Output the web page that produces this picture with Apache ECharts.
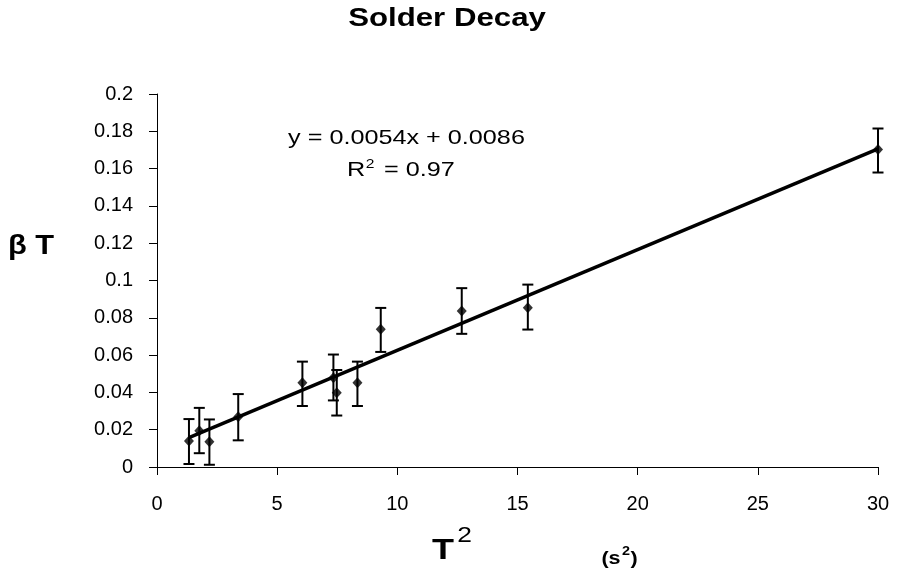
<!DOCTYPE html>
<html><head><meta charset="utf-8">
<script src="https://cdn.jsdelivr.net/npm/echarts@6/dist/echarts.min.js"></script>
<style>html,body{margin:0;padding:0;background:#fff}#c{width:898px;height:572px}</style>
</head><body><div id="c"></div>
<script>
const tSquared = [1.33, 1.76, 2.18, 3.38, 6.05, 7.34, 7.48, 8.34, 9.31, 12.68, 15.43, 30.0];
const betaT   = [0.0139, 0.0195, 0.0136, 0.027, 0.0452, 0.0479, 0.0398, 0.0452, 0.0738, 0.0836, 0.0854, 0.1703];
const errLow  = [0.0016, 0.0074, 0.0012, 0.0143, 0.0327, 0.0357, 0.0276, 0.0327, 0.0617, 0.0714, 0.0737, 0.1579];
const errHigh = [0.0257, 0.0317, 0.0255, 0.0391, 0.0565, 0.0603, 0.0520, 0.0565, 0.0853, 0.0959, 0.0978, 0.1815];
const slope = 0.0054, intercept = 0.0086;
const trendX = [1.33, 30];
const yTicks = ['0','0.02','0.04','0.06','0.08','0.1','0.12','0.14','0.16','0.18','0.2'];

const font = 'Arial, "Liberation Sans", sans-serif';
const SX = 1.2;
function txt(x, y, text, size, weight, sx){
  return {type:'text', x:x, y:y, scaleX:sx||SX,
    style:{text:text, x:0, y:0, align:'center', verticalAlign:'middle',
      font:(weight||'normal')+' '+size+'px '+font, fill:'#000'}};
}
const chart = echarts.init(document.getElementById('c'), null, {renderer:'canvas'});
chart.setOption({
  animation:false,
  backgroundColor:'#fff',
  grid:{left:157, right:20, top:94, bottom:105},
  xAxis:{type:'value', min:0, max:30, interval:5,
    axisLine:{lineStyle:{color:'#000', width:1}},
    axisTick:{show:true, length:8, lineStyle:{color:'#000'}},
    splitLine:{show:false},
    axisLabel:{fontFamily:font, fontSize:20, color:'#000', margin:27}
  },
  yAxis:{type:'value', min:0, max:0.2, interval:0.02,
    axisLine:{show:true, lineStyle:{color:'#000', width:1}},
    axisTick:{show:true, length:8, lineStyle:{color:'#000'}},
    splitLine:{show:false},
    axisLabel:{fontFamily:font, fontSize:20, color:'#000', margin:24,
      formatter:(v)=>yTicks[Math.round(v/0.02)]}
  },
  graphic:[
    txt(447, 19, 'Solder Decay', 26, 'bold'),
    txt(406.5, 138.5, 'y = 0.0054x + 0.0086', 21),
    txt(356, 170.5, 'R', 21),
    txt(370, 164, '2', 13),
    txt(419.5, 170.5, '= 0.97', 21),
    txt(31, 246, 'β T', 28, 'bold', 1.1),
    txt(443, 550.5, 'T', 30, 'bold'),
    txt(464.5, 536, '2', 22),
    txt(611, 559.5, '(s', 18, 'bold'),
    txt(626, 552, '2', 12, 'bold'),
    txt(634, 559.5, ')', 18, 'bold')
  ],
  series:[
    {type:'line', data:trendX.map(x=>[x, slope*x+intercept]), symbol:'none',
      lineStyle:{color:'#000', width:3.5}, z:2},
    {type:'custom', z:3,
      data:tSquared.map((x,i)=>[x, errLow[i], errHigh[i]]),
      renderItem:function(params, api){
        const lo = api.coord([api.value(0), api.value(1)]);
        const hi = api.coord([api.value(0), api.value(2)]);
        const w = 5.5;
        const st = {stroke:'#000', lineWidth:2};
        return {type:'group', children:[
          {type:'line', shape:{x1:hi[0], y1:hi[1], x2:lo[0], y2:lo[1]}, style:st},
          {type:'line', shape:{x1:hi[0]-w, y1:hi[1], x2:hi[0]+w, y2:hi[1]}, style:st},
          {type:'line', shape:{x1:lo[0]-w, y1:lo[1], x2:lo[0]+w, y2:lo[1]}, style:st}
        ]};
      }},
    {type:'scatter', z:4, data:tSquared.map((x,i)=>[x, betaT[i]]),
      symbol:'diamond', symbolSize:[10,11], itemStyle:{color:'#000'}}
  ]
});
</script></body></html>
